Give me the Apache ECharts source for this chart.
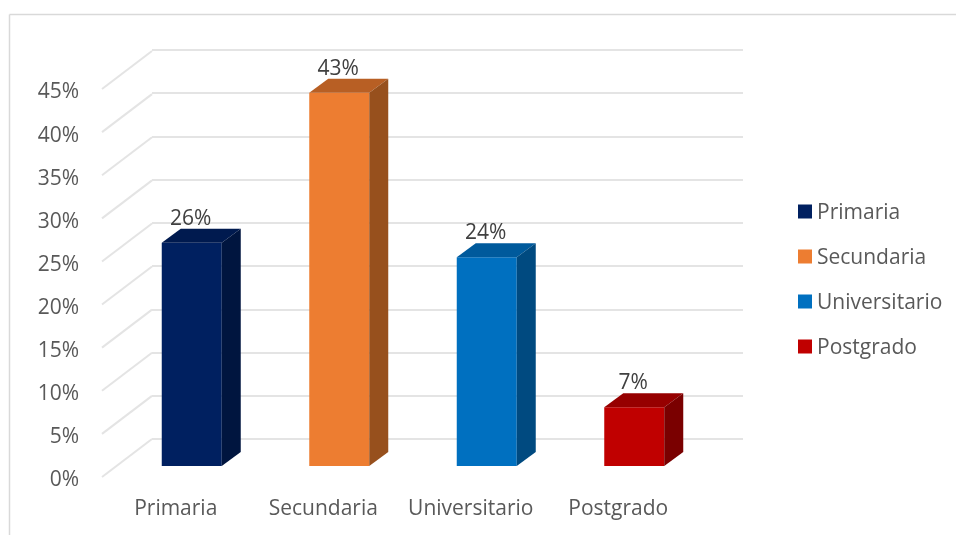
<!DOCTYPE html>
<html>
<head>
<meta charset="utf-8">
<style>
  html, body { margin: 0; padding: 0; background: #fff; }
  #chart { width: 956px; height: 535px; }
</style>
<script src="https://cdn.jsdelivr.net/npm/echarts@6/dist/echarts.min.js"></script>
</head>
<body>
<div id="chart"></div>
<script>
const categories = ['Primaria', 'Secundaria', 'Universitario', 'Postgrado'];
const values = [25.9, 43.3, 24.2, 6.8];
const yTicks = [0, 5, 10, 15, 20, 25, 30, 35, 40, 45];
const frontColors = ['#002060', '#ed7d31', '#0070c0', '#c00000'];
const topColors = ['#001a4f', '#b85f24', '#005a9c', '#960000'];
const sideColors = ['#00153f', '#97501d', '#004a80', '#7a0000'];

const font = 'Open Sans';
const gridLine = '#e4e4e4';
const wallDx = 50, wallDy = -38;   // depth of the back wall
const barShiftX = 16, barShiftY = -11;   // bars sit part way into the box
const barWidth = 60, barDx = 19, barDy = -14;

function renderBar(params, api) {
  const i = params.seriesIndex - 1;
  const p = api.coord([api.value(0), api.value(1)]);
  const base = api.coord([api.value(0), 0]);
  const x0 = p[0] + barShiftX - barWidth / 2;
  const x1 = x0 + barWidth;
  const yTop = p[1] + barShiftY;
  const yBase = base[1] + barShiftY;
  return {
    type: 'group',
    children: [
      { type: 'polygon', shape: { points: [[x0, yBase], [x0, yTop], [x1, yTop], [x1, yBase]] }, style: { fill: frontColors[i] } },
      { type: 'polygon', shape: { points: [[x0, yTop], [x0 + barDx, yTop + barDy], [x1 + barDx, yTop + barDy], [x1, yTop]] }, style: { fill: topColors[i] } },
      { type: 'polygon', shape: { points: [[x1, yBase], [x1, yTop], [x1 + barDx, yTop + barDy], [x1 + barDx, yBase + barDy]] }, style: { fill: sideColors[i] } },
      {
        type: 'text',
        style: {
          text: Math.round(api.value(1)) + '%',
          x: x0 + barWidth / 2 - 1,
          y: yTop - 24,
          align: 'center',
          verticalAlign: 'middle',
          fill: '#404040',
          font: '21px "' + font + '"'
        }
      }
    ]
  };
}

const barSeries = categories.map((name, i) => ({
  name: name,
  type: 'custom',
  xAxisIndex: 0,
  yAxisIndex: 0,
  clip: false,
  z: 5,
  itemStyle: { color: frontColors[i] },
  data: [[name, values[i]]],
  renderItem: renderBar
}));

const chart = echarts.init(document.getElementById('chart'), null, { renderer: 'canvas' });
chart.setOption({
  animation: false,
  backgroundColor: '#fff',
  grid: [
    { left: 102, right: 264, top: 89, bottom: 58 },
    { left: 152, right: 213, top: 50, bottom: 96 }
  ],
  xAxis: [
    {
      type: 'category',
      gridIndex: 0,
      data: categories,
      axisLine: { show: false },
      axisTick: { show: false },
      axisLabel: { color: '#595959', fontFamily: font, fontSize: 21, margin: 22, interval: 0, hideOverlap: false }
    },
    { type: 'category', gridIndex: 1, data: categories, show: false }
  ],
  yAxis: [
    {
      type: 'value',
      gridIndex: 0,
      min: 0,
      max: 45,
      interval: 5,
      splitLine: { show: false },
      axisLine: { show: false },
      axisTick: { show: false },
      axisLabel: { color: '#595959', fontFamily: font, fontSize: 21, margin: 23, verticalAlign: 'top', lineHeight: 7, formatter: '{value}%' }
    },
    {
      type: 'value',
      gridIndex: 1,
      min: 0,
      max: 45,
      interval: 5,
      axisLine: { show: false },
      axisTick: { show: false },
      axisLabel: { show: false },
      splitLine: { show: true, lineStyle: { color: gridLine, width: 2 } }
    }
  ],
  legend: {
    orient: 'vertical',
    left: 798,
    top: 203,
    padding: 0,
    icon: 'rect',
    itemWidth: 14,
    itemHeight: 14,
    itemGap: 24,
    selectedMode: false,
    data: categories,
    formatter: '{t|{name}}',
    textStyle: {
      color: '#595959',
      fontFamily: font,
      fontSize: 21,
      rich: { t: { color: '#595959', fontFamily: font, fontSize: 21, padding: [4, 0, 0, 0] } }
    }
  },
  graphic: [
    { type: 'line', silent: true, shape: { x1: 9.5, y1: 14.5, x2: 956, y2: 14.5 }, style: { stroke: '#d9d9d9', lineWidth: 1.5 } },
    { type: 'line', silent: true, shape: { x1: 9.5, y1: 14.5, x2: 9.5, y2: 535 }, style: { stroke: '#d9d9d9', lineWidth: 1.5 } }
  ],
  series: [
    {
      name: 'wall',
      type: 'custom',
      xAxisIndex: 0,
      yAxisIndex: 0,
      clip: false,
      z: 1,
      silent: true,
      data: yTicks.map(t => [0, t]),
      renderItem: function (params, api) {
        const p = api.coord([api.value(0), api.value(1)]);
        const startX = api.coord([0, 0])[0] - api.size([1, 0])[0] / 2;
        return {
          type: 'line',
          shape: { x1: startX, y1: p[1], x2: startX + wallDx, y2: p[1] + wallDy },
          style: { stroke: gridLine, lineWidth: 2 }
        };
      }
    }
  ].concat(barSeries)
});
</script>
</body>
</html>
